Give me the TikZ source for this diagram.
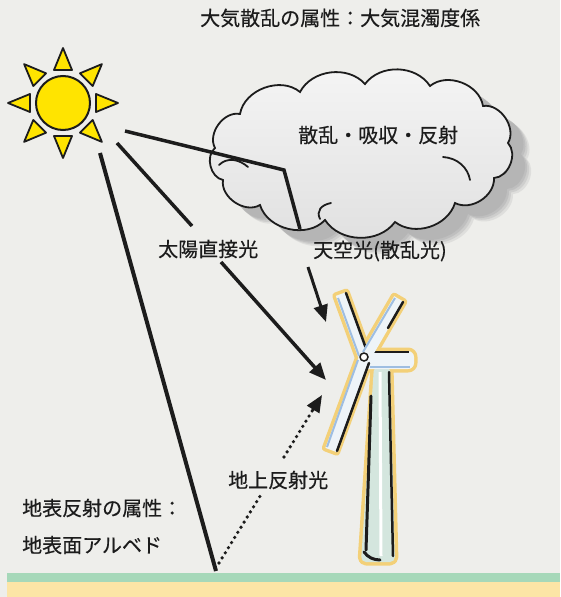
\documentclass[tikz,border=0pt]{standalone}
\usepackage{fontspec}
\setmainfont{Noto Sans CJK JP}
\newfontfamily\labelfont[FakeBold=0.4]{Noto Sans CJK JP}
\usetikzlibrary{arrows.meta,calc}

\definecolor{paper}{RGB}{238,238,235}
\definecolor{ink}{RGB}{28,28,28}
\definecolor{sunyellow}{RGB}{255,228,0}
\definecolor{cloudshade}{RGB}{178,178,178}
\definecolor{halo}{RGB}{243,208,120}
\definecolor{bladewhite}{RGB}{238,244,248}
\definecolor{bladeblue}{RGB}{158,190,226}
\definecolor{towerfill}{RGB}{212,230,222}
\definecolor{grass}{RGB}{166,216,185}
\definecolor{sand}{RGB}{252,229,166}

\tikzset{
  lbl/.style={inner sep=0pt, anchor=west, text=ink, font=\labelfont\fontsize{20}{22}\selectfont},
  beam/.style={draw=ink, line width=3.5pt},
  headed/.style={-{Triangle[length=17pt,width=14pt]}},
  dots/.style={draw=ink, line width=3.6pt, line cap=round, dash pattern=on 0pt off 6pt},
  cloudline/.style={draw=ink, line width=1.8pt, line cap=round},
  rayshape/.style={fill=sunyellow, draw=ink, line width=1.8pt, line join=round},
  haloshape/.style={draw=halo, fill=halo, line width=7pt, line join=round},
}

% outlines reused for shadow, fill and stroke
\def\cloudoutline{(215,148) to[bend left=65] (240,114) to[bend left=60] (300,92)
  to[bend left=55] (365,84) to[bend left=55] (430,86) to[bend left=60] (483,106)
  to[bend left=65] (508,143) to[bend left=65] (494,178) to[bend left=60] (455,203)
  to[bend left=55] (395,222) to[bend left=55] (325,220) to[bend left=60] (260,205)
  to[bend left=65] (223,180) to[bend left=65] (215,148) -- cycle}
\def\towerpath{[rounded corners=5pt] (374,366) -- (390,366) -- (395,562) -- (361,562) -- cycle}
\def\nacellepath{[rounded corners=6pt] (362,351) -- (414,351) -- (414,369) -- (362,369) -- cycle}
\def\bladeUL{(369.2,355.1) -- (346.2,292.1) -- (335.8,295.9) -- (358.8,358.9) -- cycle}
\def\bladeUR{(370.8,358.8) -- (403.8,301.8) -- (394.2,296.2) -- (361.2,353.2) -- cycle}
\def\bladeLB{(369.6,362.1) -- (336.6,452.1) -- (325.4,447.9) -- (358.4,357.9) -- cycle}

\begin{document}
\begin{tikzpicture}[x=1pt,y=-1pt]
\fill[paper] (0,0) rectangle (560,597);
\useasboundingbox (0,0) rectangle (560,597);

% ground strip
\fill[sand] (7,581) rectangle (560,597);
\fill[grass] (7,573) rectangle (560,582);

% cloud with soft drop shadow
\foreach \s/\o in {19/0.25,17/0.35,15/0.5,13/0.7}
  \fill[cloudshade, opacity=\o, shift={(\s,\s*0.85)}] \cloudoutline;
\path[top color=gray!8, bottom color=gray!24] \cloudoutline;
\draw[cloudline] \cloudoutline;
\draw[cloudline] (219,165) .. controls (227,157) and (239,159) .. (248,167);
\draw[cloudline] (443,157) .. controls (458,158) and (468,168) .. (470,180);
\draw[cloudline] (320,219) .. controls (316,211) and (321,205) .. (331,203);
\node[lbl] (cloudtxt) at (298,135) {散乱・吸収・反射};

% sun
\coordinate (sunC) at (63,103);
\foreach \a in {0,45,...,315}
  \path[rayshape] ($(sunC)+(\a:55)$) -- ($(sunC)+(\a:33)+({\a+90}:9)$)
     -- ($(sunC)+(\a:33)+({\a-90}:9)$) -- cycle;
\path[fill=sunyellow, draw=ink, line width=2pt] (sunC) circle[radius=27];

% wind turbine: halo first, then bodies
\path[haloshape] \towerpath;
\path[haloshape] \nacellepath;
\path[haloshape] \bladeUL;
\path[haloshape] \bladeUR;
\path[haloshape] \bladeLB;

\path[fill=towerfill] \towerpath;
\draw[white, line width=3pt] (380,372) -- (381,556);
\draw[ink, line width=3pt, line cap=round] (371,396) -- (366,550);
\draw[ink, line width=2.5pt, line cap=round] (389,372) -- (393,556);
\draw[ink, line width=3pt, line cap=round] (364,552) to[bend right=25] (380,560);

\path[fill=bladewhite] \nacellepath;
\draw[ink, line width=2pt] (368,352) -- (409,352);
\draw[bladeblue, line width=2pt] (370,367) -- (410,367);

\path[fill=bladewhite] \bladeUL;
\draw[ink, line width=2.5pt, line cap=round] (368,354) -- (346,293);
\draw[bladeblue, line width=2pt] (338,298) -- (359,356);

\path[fill=bladewhite] \bladeUR;
\draw[ink, line width=2.5pt, line cap=round] (403,302) -- (388,328);
\draw[bladeblue, line width=2pt] (395,298) -- (363,352);

\path[fill=bladewhite] \bladeLB;
\draw[ink, line width=2.5pt, line cap=round] (369,363) -- (337,451);
\draw[bladeblue, line width=2pt] (327,447) -- (358,360);

\path[fill=white, draw=ink, line width=1.5pt] (364,357) circle[radius=4];

% light paths
\coordinate (cA) at (125,131);
\coordinate (bend) at (284,170);
\coordinate (cEnd) at (300,229);
\coordinate (skyS) at (308,267);
\coordinate (skyT) at (326,322);
\coordinate (dA) at (117,143);
\coordinate (dB) at (192,226);
\coordinate (dC) at (221,262);
\coordinate (dT) at (326,380);
\coordinate (gA) at (100,153);
\coordinate (gB) at (216,571);
\coordinate (rA) at (219,563);
\coordinate (rB) at (262,493);
\coordinate (rC) at (284,457);
\coordinate (rT) at (322,395);

\draw[beam, line join=miter] (cA) -- (bend) -- (cEnd);
\draw[beam, line width=3pt, headed] (skyS) -- (skyT);
\draw[beam] (dA) -- (dB);
\draw[beam, headed] (dC) -- (dT);
\draw[beam, line width=4pt] (gA) -- (gB);
\draw[dots] (rA) -- (rB);
\draw[dots] (rC) -- ($(rT)!16pt!(rC)$);
\draw[beam, line width=3pt, headed] ($(rT)!18pt!(rC)$) -- (rT);

% labels
\node[lbl] (title) at (200,18) {大気散乱の属性：大気混濁度係};
\node[lbl] (direct) at (158,249) {太陽直接光};
\node[lbl] (sky) at (313,251) {天空光(散乱光)};
\node[lbl] (refl) at (228,480) {地上反射光};
\node[lbl] (albedo1) at (22,508) {地表反射の属性：};
\node[lbl] (albedo2) at (22,545) {地表面アルベド};
\end{tikzpicture}
\end{document}
